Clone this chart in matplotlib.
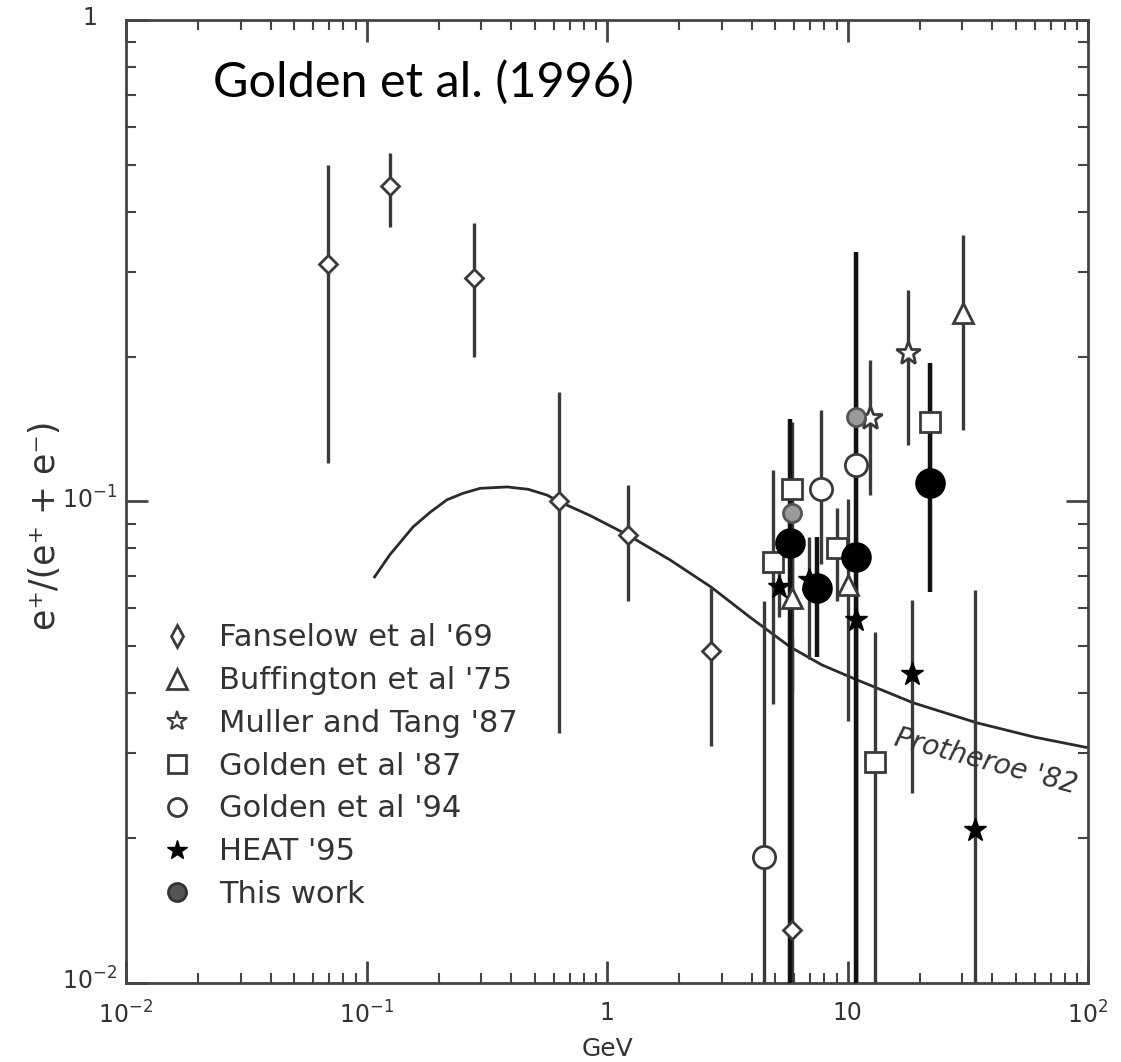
import matplotlib
matplotlib.use("Agg")
import matplotlib.pyplot as plt
from matplotlib.lines import Line2D
from matplotlib.transforms import ScaledTranslation
from matplotlib.ticker import FixedLocator, LogLocator, NullFormatter, FixedFormatter

# positron fraction data (GeV, ratio, err low, err high)
fan_x = [0.069, 0.125, 0.28, 0.63, 1.22, 2.71, 5.9]
fan_y = [0.311, 0.452, 0.291, 0.100, 0.085, 0.049, 0.0129]
fan_lo = [0.120, 0.372, 0.200, 0.033, 0.062, 0.031, 0.005]
fan_hi = [0.500, 0.530, 0.379, 0.169, 0.108, 0.066, 0.052]

buf_x = [5.9, 10.0, 30.1]
buf_y = [0.063, 0.067, 0.246]
buf_lo = [0.040, 0.035, 0.141]
buf_hi = [0.082, 0.101, 0.358]

mul_x = [12.4, 17.8]
mul_y = [0.149, 0.203]
mul_lo = [0.103, 0.131]
mul_hi = [0.197, 0.275]

g87_x = [4.88, 5.90, 9.08, 13.07, 22.1]
g87_y = [0.075, 0.106, 0.080, 0.0288, 0.146]
g87_lo = [0.038, 0.060, 0.062, 0.005, 0.110]
g87_hi = [0.116, 0.146, 0.097, 0.0536, 0.194]

g94_x = [4.5, 7.72, 10.85]
g94_y = [0.0183, 0.106, 0.119]
g94_lo = [0.005, 0.074, 0.005]
g94_hi = [0.062, 0.155, 0.33]

heat_x = [5.21, 6.92, 10.85, 18.6, 34.0]
heat_y = [0.0664, 0.0687, 0.0567, 0.0438, 0.0208]
heat_lo = [0.0576, 0.047, 0.005, 0.0248, 0.005]
heat_hi = [0.0721, 0.0844, 0.0655, 0.0624, 0.0655]

big_x = [5.74, 7.50, 10.85, 22.1]
big_y = [0.0820, 0.0661, 0.0767, 0.1092]
big_lo = [0.005, 0.0475, 0.005, 0.0649]
big_hi = [0.148, 0.0844, 0.33, 0.194]

work_x = [5.90, 10.85]
work_y = [0.0946, 0.1498]

# Protheroe '82 secondary prediction
pro_x = [0.108, 0.125, 0.156, 0.184, 0.216, 0.252, 0.297, 0.384, 0.47, 0.563,
         0.631, 0.85, 1.22, 1.83, 2.71, 3.93, 5.77, 7.8, 10.96, 18.7, 34.5, 60, 100]
pro_y = [0.0697, 0.0775, 0.0885, 0.0950, 0.1008, 0.1040, 0.1065, 0.1072, 0.1060,
         0.1031, 0.100, 0.0935, 0.0852, 0.0756, 0.0664, 0.0575, 0.0499, 0.0458,
         0.0426, 0.0382, 0.0347, 0.0324, 0.0308]

legend_labels = ["Fanselow et al '69", "Buffington et al '75", "Muller and Tang '87",
                 "Golden et al '87", "Golden et al '94", "HEAT '95", "This work"]

ink = '#3a3a3a'

fig = plt.figure(figsize=(11.21, 10.62), dpi=100)
ax = fig.add_axes([0.1124, 0.0744, 0.8582, 0.9068])
ax.set_xscale('log')
ax.set_yscale('log')
ax.set_xlim(1e-2, 1e2)
ax.set_ylim(1e-2, 1)


def errs(ys, lo, hi):
    return [[y - l for y, l in zip(ys, lo)], [h - y for y, h in zip(ys, hi)]]


ax.plot(pro_x, pro_y, color='#2a2a2a', lw=2, zorder=2)

eb = dict(fmt='none', ecolor=ink, elinewidth=2.4, capsize=0, zorder=3)
ax.errorbar(fan_x, fan_y, yerr=errs(fan_y, fan_lo, fan_hi), **eb)
ax.errorbar(buf_x, buf_y, yerr=errs(buf_y, buf_lo, buf_hi), **eb)
ax.errorbar(mul_x, mul_y, yerr=errs(mul_y, mul_lo, mul_hi), **eb)
ax.errorbar(g87_x, g87_y, yerr=errs(g87_y, g87_lo, g87_hi), **eb)
ax.errorbar(g94_x, g94_y, yerr=errs(g94_y, g94_lo, g94_hi), **eb)
ax.errorbar(heat_x, heat_y, yerr=errs(heat_y, heat_lo, heat_hi), **eb)
ax.errorbar(big_x, big_y, yerr=errs(big_y, big_lo, big_hi),
            fmt='none', ecolor='#111111', elinewidth=3.2, capsize=0, zorder=3)

open_kw = dict(ls='none', mfc='white', mec=ink, mew=2, zorder=5)
ax.plot(fan_x, fan_y, marker='D', ms=9, **open_kw)
ax.plot(buf_x, buf_y, marker='^', ms=15, **open_kw)
ax.plot(mul_x, mul_y, marker='*', ms=18, **open_kw)
ax.plot(g87_x, g87_y, marker='s', ms=15, **open_kw)
ax.plot(g94_x, g94_y, marker='o', ms=16, **open_kw)
ax.plot(heat_x, heat_y, ls='none', marker='*', ms=17, color='black', zorder=6)
ax.plot(big_x, big_y, ls='none', marker='o', ms=21, color='black', zorder=6)
ax.plot(work_x, work_y, ls='none', marker='o', ms=13, mfc='#9a9a9a', mec='#555555',
        mew=2, zorder=6)

ax.text(37.7, 0.0288, "Protheroe '82", rotation=-15, fontsize=20, style='italic',
        color='#333333', ha='center', va='center')

ax.text(0.09, 0.935, "Golden et al. (1996)", transform=ax.transAxes, fontsize=35,
        family='Lato', color='black', ha='left', va='center')

# legend
handles = [
    Line2D([], [], ls='none', marker='d', ms=11, mfc='white', mec=ink, mew=2),
    Line2D([], [], ls='none', marker='^', ms=14, mfc='white', mec=ink, mew=2),
    Line2D([], [], ls='none', marker='*', ms=15, mfc='white', mec=ink, mew=1.5),
    Line2D([], [], ls='none', marker='s', ms=13, mfc='white', mec=ink, mew=2),
    Line2D([], [], ls='none', marker='o', ms=13, mfc='white', mec=ink, mew=2),
    Line2D([], [], ls='none', marker='*', ms=15, color='black'),
    Line2D([], [], ls='none', marker='o', ms=13, mfc='#555555', mec='#333333', mew=2),
]
leg = ax.legend(handles, legend_labels, loc='upper left', bbox_to_anchor=(0.024, 0.386),
                frameon=False, fontsize=22, handletextpad=0.9, labelspacing=0.45,
                handlelength=1.0, borderaxespad=0)
for t in leg.get_texts():
    t.set_color('#333333')

# axes ticks and labels
for side in ['top', 'bottom', 'left', 'right']:
    ax.spines[side].set_linewidth(2)
    ax.spines[side].set_color('#444444')

ax.xaxis.set_major_locator(FixedLocator([1e-2, 1e-1, 1, 10, 1e2]))
ax.xaxis.set_major_formatter(FixedFormatter([r'$10^{-2}$', r'$10^{-1}$', '1', '10', r'$10^{2}$']))
ax.yaxis.set_major_locator(FixedLocator([1e-2, 1e-1, 1]))
ax.yaxis.set_major_formatter(FixedFormatter([r'$10^{-2}$', r'$10^{-1}$', '1']))
ax.xaxis.set_minor_locator(LogLocator(base=10, subs=range(2, 10)))
ax.yaxis.set_minor_locator(LogLocator(base=10, subs=range(2, 10)))
ax.xaxis.set_minor_formatter(NullFormatter())
ax.yaxis.set_minor_formatter(NullFormatter())
ax.tick_params(which='both', direction='in', top=True, right=True, colors='#444444',
               labelcolor='#333333', labelsize=17)
ax.tick_params(which='major', length=16, width=2)
ax.tick_params(which='minor', length=7, width=1.5)
ax.tick_params(axis='x', which='major', pad=13)
ax.tick_params(axis='y', which='major', pad=26)

fig.canvas.draw()
shift = ScaledTranslation(0, 3 / 72, fig.dpi_scale_trans)
for lab in ax.get_yticklabels():
    lab.set_horizontalalignment('center')
    lab.set_transform(lab.get_transform() + shift)

ax.set_xlabel('GeV', fontsize=18, color='#333333', labelpad=6)
ax.set_ylabel('e\u207a/(e\u207a + e\u207b)', fontsize=25, color='#333333', labelpad=0)
ax.yaxis.set_label_coords(-0.0665, 0.4756)

fig.savefig('out.png', dpi=100)
